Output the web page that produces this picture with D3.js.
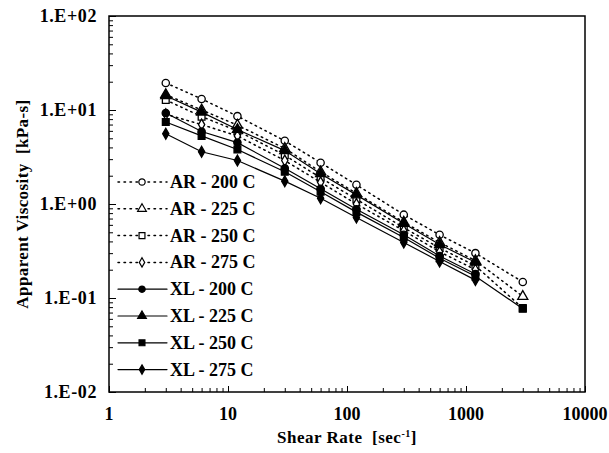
<!DOCTYPE html>
<html>
<head>
  <meta charset="utf-8">
  <title>Apparent Viscosity vs Shear Rate</title>
  <script src="https://d3js.org/d3.v7.min.js"></script>
  <style>
    body { margin: 0; background: #fff; }
    svg { display: block; }
    text { font-family: "Liberation Serif", "Times New Roman", serif; font-weight: bold; fill: #000; white-space: pre; }
  </style>
</head>
<body>
  <div id="chart"></div>
  <script>
    // shear rates (1/s)
    var shearRates = [3, 6, 12, 30, 60, 120, 300, 600, 1200, 3000];

    // apparent viscosity (kPa-s)
    var ar200 = [19.4, 13.1, 8.6, 4.7, 2.75, 1.6, 0.77, 0.47, 0.30, 0.148];
    var ar225 = [14.6, 10.0, 6.9, 3.9, 2.2, 1.3, 0.64, 0.39, 0.25, 0.104];
    var ar250 = [12.8, 8.5, 6.0, 3.3, 1.9, 1.12, 0.56, 0.34, 0.22, 0.078];
    var ar275 = [9.0, 7.0, 5.3, 2.9, 1.7, 1.0, 0.52, 0.31, 0.20, null];
    var xl200 = [9.3, 5.9, 4.5, 2.4, 1.45, 0.88, 0.47, 0.28, 0.18, null];
    var xl225 = [14.2, 9.5, 6.2, 3.7, 2.1, 1.25, 0.62, 0.37, 0.24, null];
    var xl250 = [7.45, 5.3, 3.8, 2.2, 1.35, 0.82, 0.44, 0.265, 0.17, 0.077];
    var xl275 = [5.6, 3.6, 2.9, 1.75, 1.15, 0.72, 0.39, 0.245, 0.155, null];

    var seriesNames = ["AR - 200 C", "AR - 225 C", "AR - 250 C", "AR - 275 C",
                       "XL - 200 C", "XL - 225 C", "XL - 250 C", "XL - 275 C"];
    var seriesValues = [ar200, ar225, ar250, ar275, xl200, xl225, xl250, xl275];
    var seriesShapes = ["circle", "triangle", "square", "diamond",
                        "circle", "triangle", "square", "diamond"];

    var xTickValues = [1, 10, 100, 1000, 10000];
    var xTickLabels = ["1", "10", "100", "1000", "10000"];
    var yTickValues = [0.01, 0.1, 1, 10, 100];
    var yTickLabels = ["1.E-02", "1.E-01", "1.E+00", "1.E+01", "1.E+02"];

    var width = 609, height = 453;
    var margin = { top: 16, right: 24, bottom: 61, left: 109 };

    var svg = d3.select("#chart").append("svg")
      .attr("width", width)
      .attr("height", height);

    var x = d3.scaleLog().domain([1, 10000]).range([margin.left, width - margin.right]);
    var y = d3.scaleLog().domain([0.01, 100]).range([height - margin.bottom, margin.top]);

    // minor ticks (2..9 in every decade)
    function minors(lo, hi) {
      var out = [];
      for (var p = lo; p < hi; p *= 10) {
        for (var m = 1; m <= 9; m++) out.push(p * m);
      }
      out.push(hi);
      return out;
    }

    // left axis, ticks pointing inward
    svg.append("g")
      .attr("transform", "translate(" + margin.left + ",0)")
      .call(d3.axisRight(y).tickValues(minors(0.01, 100)).tickSize(4).tickFormat(""))
      .call(function (g) { g.select(".domain").remove(); });
    svg.append("g")
      .attr("transform", "translate(" + margin.left + ",0)")
      .call(d3.axisRight(y).tickValues(yTickValues).tickSize(7).tickFormat(""))
      .call(function (g) { g.select(".domain").remove(); });

    // bottom axis, ticks pointing inward
    svg.append("g")
      .attr("transform", "translate(0," + y(0.01) + ")")
      .call(d3.axisTop(x).tickValues(minors(1, 10000)).tickSize(4).tickFormat(""))
      .call(function (g) { g.select(".domain").remove(); });
    svg.append("g")
      .attr("transform", "translate(0," + y(0.01) + ")")
      .call(d3.axisTop(x).tickValues(xTickValues).tickSize(6).tickFormat(""))
      .call(function (g) { g.select(".domain").remove(); });

    svg.selectAll(".tick line").attr("stroke", "#000").attr("stroke-width", 1);

    // frame
    svg.append("rect")
      .attr("x", x(1)).attr("y", y(100))
      .attr("width", x(10000) - x(1))
      .attr("height", y(0.01) - y(100))
      .attr("fill", "none")
      .attr("stroke", "#000")
      .attr("stroke-width", 1.5);

    // tick labels
    svg.selectAll(".ylab").data(yTickValues).enter().append("text")
      .attr("class", "ylab")
      .attr("x", 97)
      .attr("y", function (d) { return y(d) + 6; })
      .attr("text-anchor", "end")
      .style("font-size", "18px")
      .style("letter-spacing", "0.6px")
      .text(function (d, i) { return yTickLabels[i]; });

    svg.selectAll(".xlab").data(xTickValues).enter().append("text")
      .attr("class", "xlab")
      .attr("x", function (d) { return x(d); })
      .attr("y", 420)
      .attr("text-anchor", "middle")
      .style("font-size", "18px")
      .text(function (d, i) { return xTickLabels[i]; });

    // axis titles
    var xt = svg.append("text")
      .attr("x", (x(1) + x(10000)) / 2)
      .attr("y", 443)
      .attr("text-anchor", "middle")
      .style("font-size", "17px")
      .style("letter-spacing", "0.5px");
    xt.append("tspan").text("Shear Rate  [sec");
    xt.append("tspan").attr("dy", -6).style("font-size", "10px").text("-1");
    xt.append("tspan").attr("dy", 6).text("]");

    svg.append("text")
      .attr("transform", "translate(28," + ((y(100) + y(0.01)) / 2) + ") rotate(-90)")
      .attr("text-anchor", "middle")
      .style("font-size", "17px")
      .style("letter-spacing", "0.4px")
      .text("Apparent Viscosity  [kPa-s]");

    // markers
    function symbolFor(shape, k) {
      k = k || 1;
      if (shape === "circle") return d3.symbol().type(d3.symbolCircle).size(42 * k);
      if (shape === "triangle") return d3.symbol().type(d3.symbolTriangle).size(44 * k);
      if (shape === "square") return d3.symbol().type(d3.symbolSquare).size(46 * k);
      return d3.symbol().type(d3.symbolDiamond).size(34 * k);
    }

    var line = d3.line()
      .defined(function (d) { return d[1] != null; })
      .x(function (d) { return x(d[0]); })
      .y(function (d) { return y(d[1]); });

    seriesValues.forEach(function (vals, i) {
      var isAR = i < 4;
      var pts = shearRates.map(function (s, j) { return [s, vals[j]]; });
      svg.append("path")
        .datum(pts)
        .attr("d", line)
        .attr("fill", "none")
        .attr("stroke", "#000")
        .attr("stroke-width", isAR ? 1.5 : 1.2)
        .attr("stroke-dasharray", isAR ? "1.5,4" : null)
        .attr("stroke-linecap", "round");

      svg.selectAll(".m" + i)
        .data(pts.filter(function (d) { return d[1] != null; }))
        .enter().append("path")
        .attr("class", "m" + i)
        .attr("transform", function (d) { return "translate(" + x(d[0]) + "," + y(d[1]) + ")"; })
        .attr("d", symbolFor(seriesShapes[i]))
        .attr("fill", isAR ? "#fff" : "#000")
        .attr("stroke", "#000")
        .attr("stroke-width", 1.3);
    });

    // legend
    var legend = svg.append("g").attr("transform", "translate(118,182)");
    seriesNames.forEach(function (name, i) {
      var isAR = i < 4;
      var row = legend.append("g").attr("transform", "translate(0," + (i * 26.8) + ")");
      row.append("line")
        .attr("x1", 0).attr("x2", 49)
        .attr("stroke", "#000")
        .attr("stroke-width", isAR ? 1.5 : 1.2)
        .attr("stroke-dasharray", isAR ? "1.5,4.5" : null)
        .attr("stroke-linecap", "round");
      row.append("path")
        .attr("transform", "translate(24,0)")
        .attr("d", symbolFor(seriesShapes[i], 0.75))
        .attr("fill", isAR ? "#fff" : "#000")
        .attr("stroke", "#000")
        .attr("stroke-width", 1.2);
      row.append("text")
        .attr("x", 52)
        .attr("y", 6)
        .style("font-size", "18px")
        .text(name);
    });
  </script>
</body>
</html>
